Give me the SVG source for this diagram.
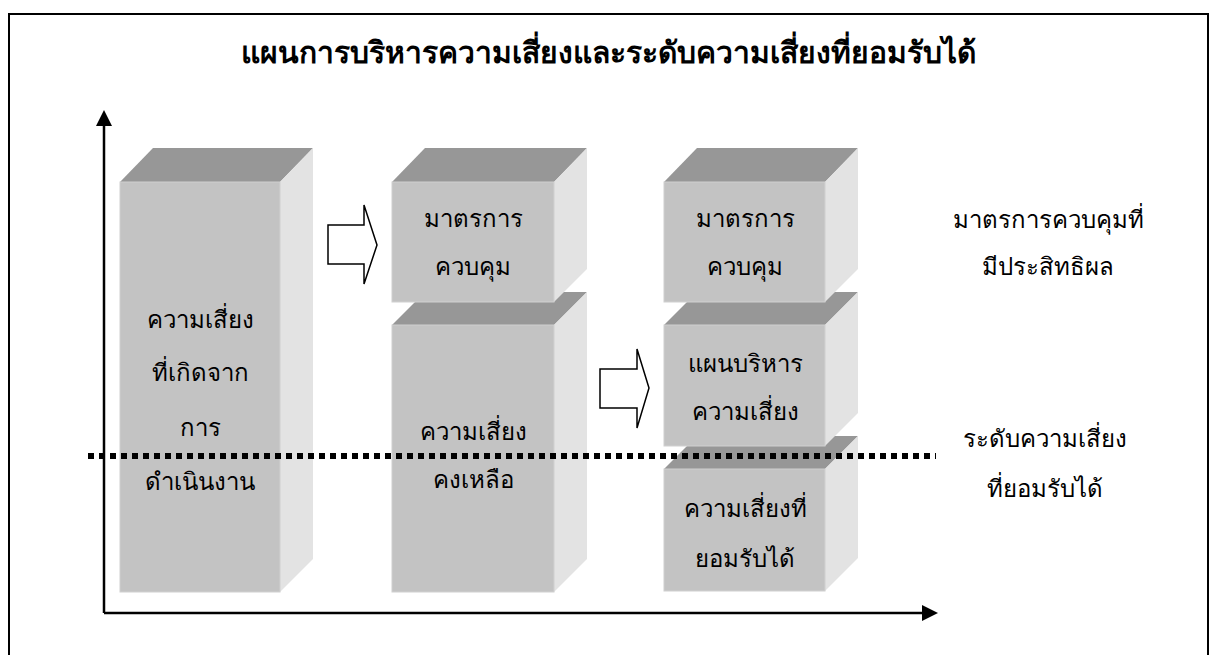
<svg xmlns="http://www.w3.org/2000/svg" width="1211" height="655" viewBox="0 0 1211 655">
<style>
.front{fill:#c3c3c3;stroke:#d0d0d0;stroke-width:1}
.top{fill:#979797}
.side{fill:#e3e3e3}
.t{font-family:"Liberation Serif","Noto Sans",serif;font-size:24px;fill:#000;text-anchor:middle}
.title{font-family:"Liberation Serif","Noto Sans",serif;font-size:30px;font-weight:bold;fill:#000;text-anchor:middle}
.ax{stroke:#000;stroke-width:2.5;fill:none}
.blk{fill:#fff;stroke:#000;stroke-width:1.5}
</style>
<defs>
<marker id="ah" markerWidth="8" markerHeight="8" refX="7" refY="4" orient="auto" markerUnits="strokeWidth">
<path d="M0,0 L8,4 L0,8 Z" fill="#000"/>
</marker>
</defs>
<rect x="9" y="14" width="1199" height="660" fill="#fff" stroke="#000" stroke-width="2"/>
<text class="title" x="608" y="63">แผนการบริหารความเสี่ยงและระดับความเสี่ยงที่ยอมรับได้</text>

<g id="axes">
<line class="ax" x1="104" y1="613" x2="104" y2="126"/>
<path d="M104,110 L96,126 L112,126 Z" fill="#000"/>
<line class="ax" x1="104" y1="613" x2="922" y2="613"/>
<path d="M938,613 L922,605 L922,621 Z" fill="#000"/>
</g>

<g id="box1">
<polygon class="top" points="120,182 153,148 313,148 280,182"/>
<polygon class="side" points="280,182 313,148 313,559 280,592"/>
<rect class="front" x="120" y="182" width="160" height="410"/>
<text class="t" x="200" y="328">ความเสี่ยง</text>
<text class="t" x="200" y="381">ที่เกิดจาก</text>
<text class="t" x="200" y="436">การ</text>
<text class="t" x="200" y="490">ดำเนินงาน</text>
</g>

<g id="box2b">
<polygon class="top" points="392,325 425,292 587,292 554,325"/>
<polygon class="side" points="554,325 587,292 587,559 554,592"/>
<rect class="front" x="392" y="325" width="162" height="267"/>
<text class="t" x="473" y="440">ความเสี่ยง</text>
<text class="t" x="473" y="488">คงเหลือ</text>
</g>
<g id="box2a">
<polygon class="top" points="392,182 425,148 587,148 554,182"/>
<polygon class="side" points="554,182 587,148 587,269 554,302"/>
<rect class="front" x="392" y="182" width="162" height="120"/>
<text class="t" x="473" y="227">มาตรการ</text>
<text class="t" x="473" y="275">ควบคุม</text>
</g>

<g id="box3c">
<polygon class="top" points="664,469 697,436 858,436 825,469"/>
<polygon class="side" points="825,469 858,436 858,558 825,591"/>
<rect class="front" x="664" y="469" width="161" height="122"/>
<text class="t" x="745" y="517">ความเสี่ยงที่</text>
<text class="t" x="745" y="567">ยอมรับได้</text>
</g>
<g id="box3b">
<polygon class="top" points="664,325 697,292 858,292 825,325"/>
<polygon class="side" points="825,325 858,292 858,413 825,446"/>
<rect class="front" x="664" y="325" width="161" height="121"/>
<text class="t" x="745" y="372">แผนบริหาร</text>
<text class="t" x="745" y="420">ความเสี่ยง</text>
</g>
<g id="box3a">
<polygon class="top" points="664,182 697,148 858,148 825,182"/>
<polygon class="side" points="825,182 858,148 858,269 825,302"/>
<rect class="front" x="664" y="182" width="161" height="120"/>
<text class="t" x="745" y="227">มาตรการ</text>
<text class="t" x="745" y="275">ควบคุม</text>
</g>

<g id="connectors">
<polygon class="blk" points="328,225 364,225 364,205 377,245 364,284 364,264 328,264"/>
<polygon class="blk" points="600,369 637,369 637,349 649,388 637,428 637,408 600,408"/>
<line x1="88" y1="456" x2="936" y2="456" stroke="#000" stroke-width="6" stroke-dasharray="6 5"/>
</g>

<g id="labels">
<text class="t" x="1048" y="228">มาตรการควบคุมที่</text>
<text class="t" x="1048" y="275">มีประสิทธิผล</text>
<text class="t" x="1045" y="447">ระดับความเสี่ยง</text>
<text class="t" x="1045" y="497">ที่ยอมรับได้</text>
</g>
</svg>
